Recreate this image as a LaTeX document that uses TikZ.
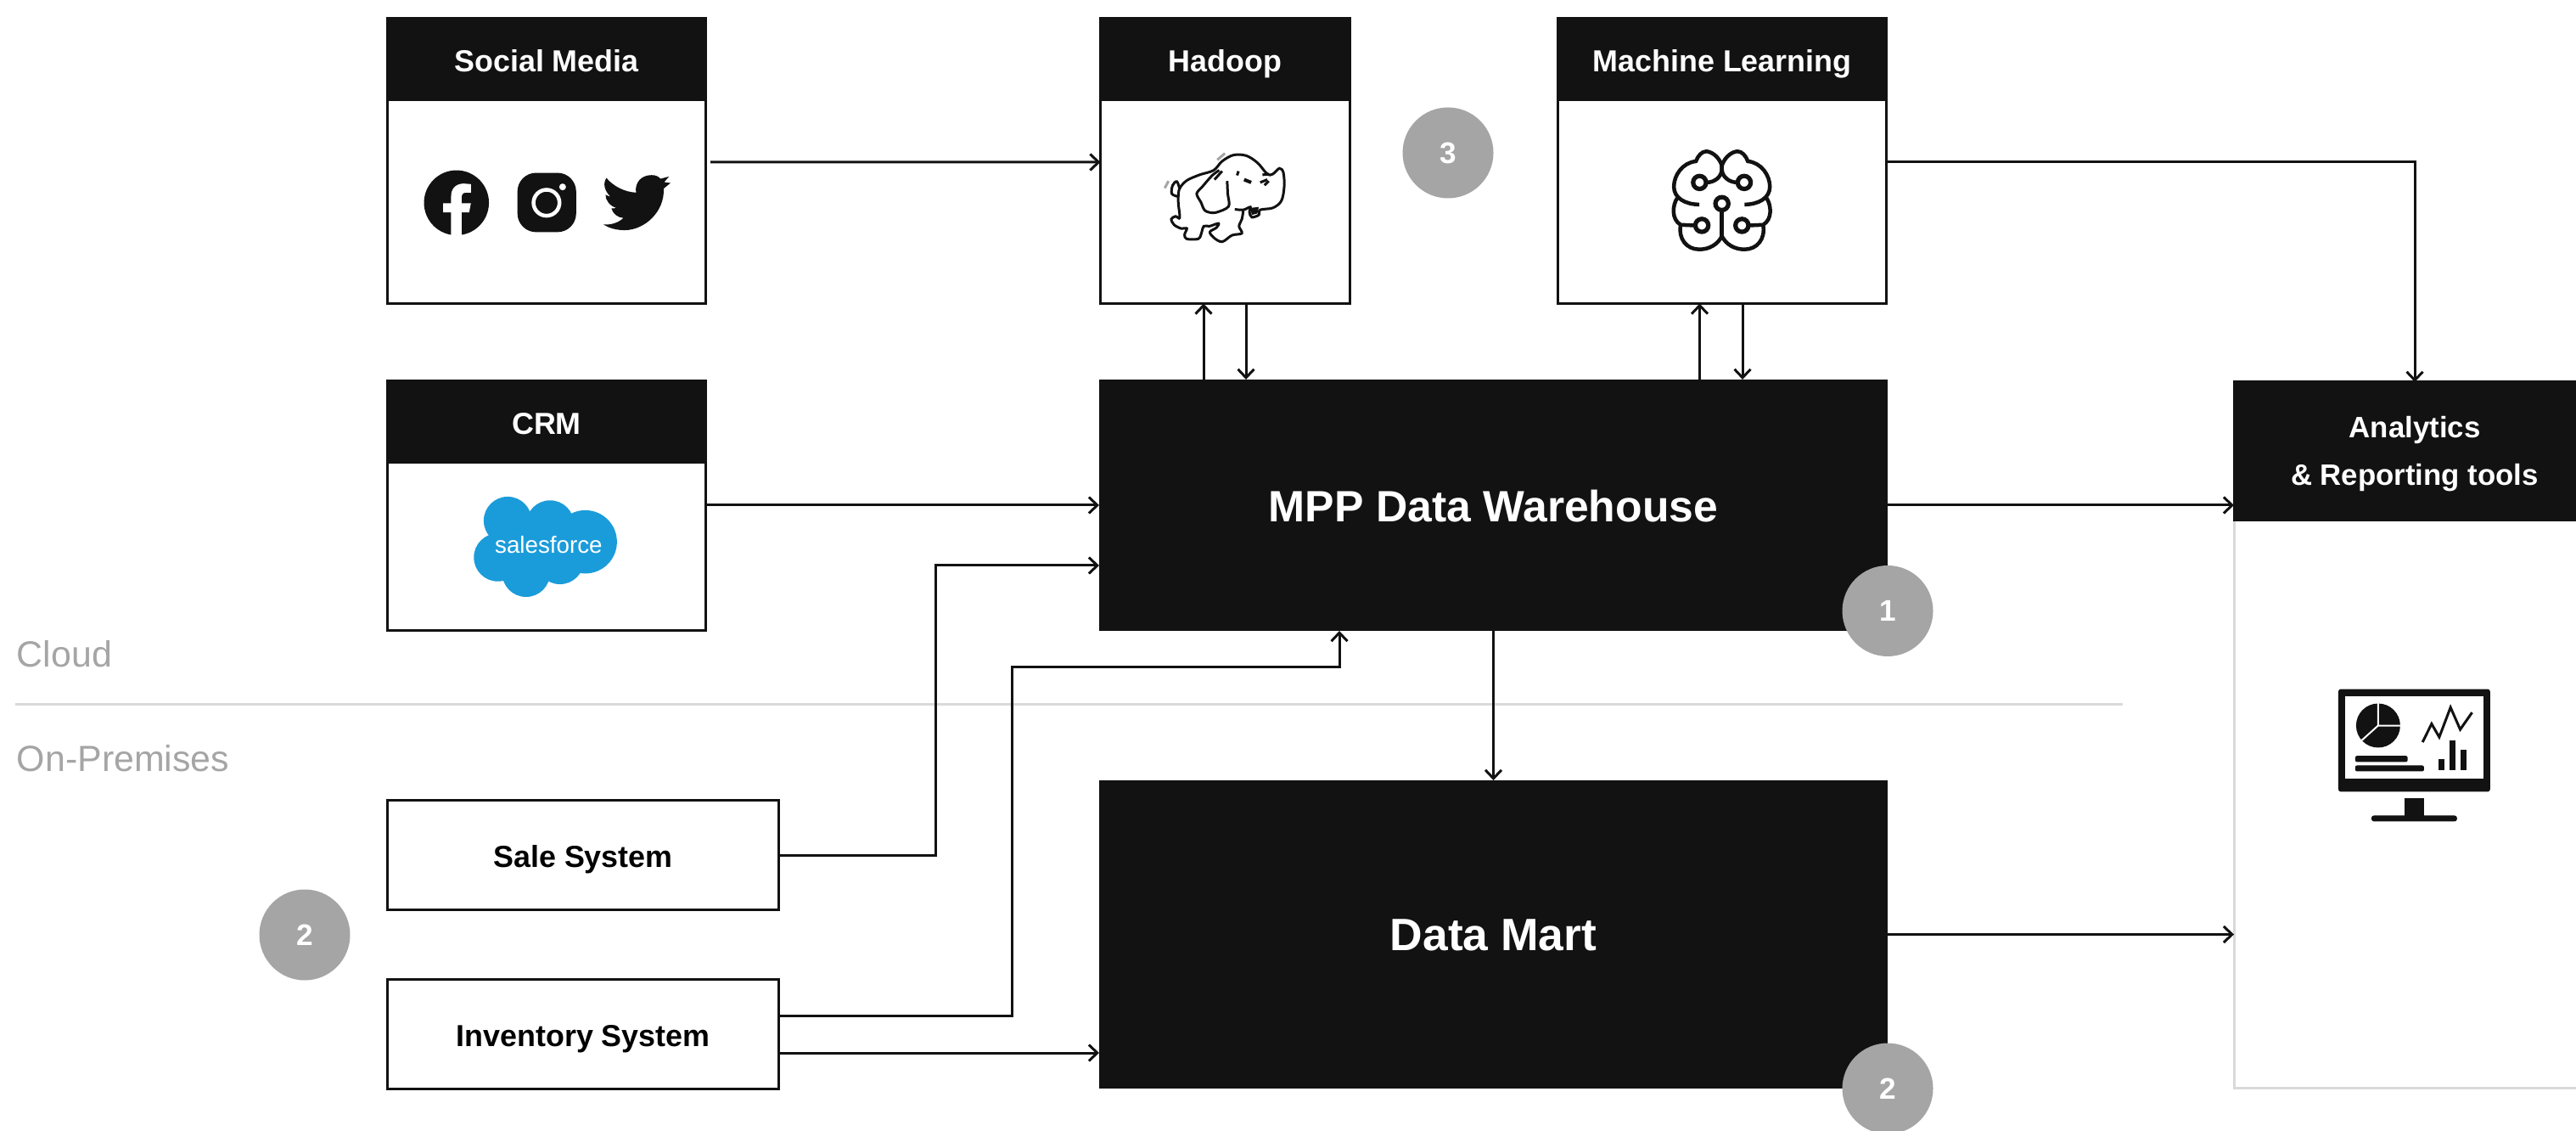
\documentclass[tikz,border=0pt]{standalone}
\usepackage{fontspec}
\setmainfont{Liberation Sans}
\usetikzlibrary{positioning, arrows.meta}
\definecolor{inkblack}{HTML}{121212}
\definecolor{badgegray}{HTML}{A5A5A5}
\definecolor{rulegray}{HTML}{D9D9D9}
\definecolor{cloudblue}{HTML}{1B9CDA}

\begin{document}
\begin{tikzpicture}[
    outer sep=0pt,
    capline/.style={text height=8.3pt, text depth=0pt},
    titlehead/.style={rectangle, draw=inkblack, fill=inkblack, line width=0.03cm, text=white, inner sep=0pt, minimum height=0.96cm, align=center, font=\fontsize{10.2}{15.9}\selectfont\bfseries},
    titlebody/.style={rectangle, draw=inkblack, fill=white, line width=0.03cm, inner sep=0pt},
    blackbox/.style={rectangle, fill=inkblack, text=white, inner sep=0pt, minimum width=9.29cm, text height=10.9pt, text depth=0pt, font=\fontsize{15.2}{18}\selectfont\bfseries},
    sourcebox/.style={rectangle, draw=inkblack, line width=0.03cm, inner sep=0pt, minimum width=4.61cm, minimum height=1.29cm, capline, font=\fontsize{10.2}{12}\selectfont\bfseries},
    badge/.style={circle, fill=badgegray, text=white, inner sep=0pt, minimum size=1.07cm, font=\fontsize{10}{12}\selectfont\bfseries},
    flow/.style={draw=inkblack, line width=0.03cm, -{Straight Barb[length=0.1cm, width=0.19cm]}},
    divider/.style={draw=rulegray, line width=0.03cm},
    zonelabel/.style={text=badgegray, inner sep=0pt, anchor=base west, font=\fontsize{12.2}{14}\selectfont}
]
\useasboundingbox (0,0) rectangle (30.35,-13.32);

% Cloud and on-premises zones
\coordinate (ruleleft) at (0.18,-8.30);
\coordinate (ruleright) at (25.01,-8.30);
\draw[divider] (ruleleft) -- (ruleright);
\node[zonelabel] (cloud) at (0.20,-7.86) {Cloud};
\node[zonelabel] (premises) at (0.20,-9.09) {On-Premises};

% Top row
\node[titlehead, capline, minimum width=3.75cm] (socialhead) at (6.44,-0.695) {Social Media};
\node[titlebody, minimum width=3.75cm, minimum height=2.40cm, below=0cm of socialhead] (socialbody) {};
\node[titlehead, capline, minimum width=2.94cm, right=4.65cm of socialhead] (hadoophead) {Hadoop};
\node[titlebody, minimum width=2.94cm, minimum height=2.40cm, below=0cm of hadoophead] (hadoopbody) {};
\node[titlehead, capline, minimum width=3.87cm, right=2.45cm of hadoophead] (learnhead) {Machine Learning};
\node[titlebody, minimum width=3.87cm, minimum height=2.40cm, below=0cm of learnhead] (learnbody) {};

% Sources
\node[titlehead, capline, minimum width=3.75cm, below=0.91cm of socialbody] (crmhead) {CRM};
\node[titlebody, minimum width=3.75cm, minimum height=1.98cm, below=0cm of crmhead] (crmbody) {};
\node[sourcebox, below=2.0cm of crmbody.south west, anchor=north west] (sale) {Sale System};
\node[sourcebox, below=0.82cm of sale] (inventory) {Inventory System};

% Warehouse and mart
\node[blackbox, minimum height=2.96cm, below=0.895cm of hadoopbody.south west, anchor=north west, xshift=-0.015cm, font=\fontsize{14.7}{18}\selectfont\bfseries] (mpp) {MPP Data Warehouse};
\node[blackbox, minimum height=3.63cm, below=1.76cm of mpp] (mart) {Data Mart};

% Analytics runs past the right edge of the page
\node[titlebody, draw=rulegray, minimum width=4.26cm, minimum height=6.68cm, right=4.08cm of mpp.north east, anchor=north west, yshift=-1.66cm] (analyticsbody) {};
\node[titlehead, minimum width=4.26cm, minimum height=1.63cm, above=0cm of analyticsbody, font=\fontsize{9.9}{15.9}\selectfont\bfseries] (analyticshead) {\rule{0pt}{8.7pt}Analytics\\\& Reporting tools};

% Connectors
\coordinate (hadoopup) at ([xshift=-0.255cm]hadoopbody.south);
\coordinate (hadoopdown) at ([xshift=0.245cm]hadoopbody.south);
\coordinate (learnup) at ([xshift=-0.265cm]learnbody.south);
\coordinate (learndown) at ([xshift=0.24cm]learnbody.south);
\coordinate (mppin) at ([xshift=-1.815cm]mpp.south);

\draw[flow] ([shift={(0.055,0.465)}]socialbody.east) -- ([yshift=0.465cm]hadoopbody.west);
\draw[flow] ([yshift=0.465cm]learnbody.east) -| (analyticshead.north);
\draw[flow] (hadoopup |- mpp.north) -- (hadoopup);
\draw[flow] (hadoopdown) -- (hadoopdown |- mpp.north);
\draw[flow] (learnup |- mpp.north) -- (learnup);
\draw[flow] (learndown) -- (learndown |- mpp.north);
\draw[flow] (crmbody.east |- mpp.west) -- (mpp.west);
\draw[flow] (mpp.east) -- (mpp.east -| analyticshead.west);
\draw[flow] (mpp.south) -- (mart.north);
\draw[flow] (mart.east) -- (mart.east -| analyticsbody.west);
\draw[flow] (sale.east) -- ++(1.845,0) |- ([yshift=-0.71cm]mpp.west);
\draw[flow] ([yshift=0.22cm]inventory.east) -- ++(2.745,0) |- ([yshift=-0.43cm]mppin) -- (mppin);
\draw[flow] ([yshift=-0.22cm]inventory.east) -- ([yshift=-0.22cm]inventory.east -| mart.west);

% Numbered badges
\node[badge] (badgelake) at (17.06,-1.80) {3};
\node[badge] (badgempp) at ([yshift=0.235cm]mpp.south east) {1};
\node[badge] (badgemart) at (mart.south east) {2};
\node[badge] (badgesource) at (3.59,-11.01) {2};

% Facebook, Instagram, Twitter
\begin{scope}[shift={(4.40,0)}, x=0.003333cm, y=-0.003333cm]
  \fill[inkblack] (294,718) circle[radius=115];
  \fill[white] (275,835) -- (275,752) -- (247,752) -- (247,720) -- (275,720) -- (275,695) .. controls (275,665) and (295,650) .. (320,650) -- (345,652) -- (345,682) -- (328,682) .. controls (316,682) and (312,690) .. (312,700) -- (312,720) -- (345,720) -- (339,752) -- (312,752) -- (312,835) -- cycle;
  \fill[inkblack, rounded corners=0.22cm] (510,612) rectangle (718,822);
  \draw[white, line width=0.045cm] (613,718) circle[radius=46];
  \fill[white] (670,662) circle[radius=12];
  \fill[inkblack] (1052,648) -- (1028,668) .. controls (1032,750) and (960,815) .. (890,815)
    .. controls (860,815) and (835,808) .. (815,795) .. controls (845,797) and (870,787) .. (885,772)
    .. controls (865,770) and (848,757) .. (843,738) -- (862,737)
    .. controls (838,730) and (822,710) .. (822,690) -- (840,697)
    .. controls (818,675) and (812,650) .. (825,630) .. controls (850,660) and (890,680) .. (930,682)
    .. controls (925,645) and (950,620) .. (985,620) .. controls (1000,620) and (1010,625) .. (1017,633)
    -- (1047,625) -- (1030,645) -- cycle;
\end{scope}

% Hadoop elephant
\begin{scope}[shift={(13.65,-1.70)}, x=0.003333cm, y=-0.003333cm, line width=0.03cm, inkblack]
  \draw plot[smooth, tension=0.55] coordinates {(70,180) (75,155) (100,128) (145,108) (195,92) (225,60) (265,38) (310,40) (350,65) (385,105) (405,105) (428,85) (442,100) (445,150) (435,200) (405,225) (360,232) (355,250) (330,258) (322,240) (325,222) (300,232) (270,230)};
  \draw plot[smooth, tension=0.55] coordinates {(300,235) (295,265) (285,290) (295,315) (260,322) (225,345) (195,330) (182,310) (205,295) (212,280) (180,290) (160,290) (150,320) (140,335) (100,335) (92,320) (100,298) (80,298) (55,285) (45,265) (60,255) (75,260) (70,210) (70,180)};
  \draw plot[smooth, tension=0.6] coordinates {(75,160) (65,132) (50,145) (47,175) (70,185)};
  \draw plot[smooth, tension=0.5] coordinates {(215,92) (190,110) (155,150) (135,175) (150,205) (165,235) (200,242) (248,220) (245,175) (243,130)};
  \fill (325,225) -- (355,222) -- (350,245) -- (330,250) -- cycle;
  \draw[line width=0.04cm] (303,125) -- (328,135);
  \draw (283,95) -- (278,110);
  \draw (368,108) -- (392,105);
  \draw (360,135) -- (385,125);
  \draw (375,145) -- (390,130);
  \draw (225,95) -- (198,125);
  \draw[badgegray] (35,130) -- (22,155);
  \draw[badgegray] (235,32) -- (208,55);
\end{scope}

% Machine learning brain
\foreach \side in {1,-1} {
  \begin{scope}[shift={(20.2867,-1.70)}, x=0.003333cm, y=-0.003333cm, xscale=\side, line width=0.045cm, inkblack]
    \draw (0,75) .. controls (-12,40) and (-40,25) .. (-56,25) .. controls (-70,25) and (-85,40) .. (-92,60) .. controls (-140,65) and (-170,110) .. (-170,150) .. controls (-170,190) and (-130,213) .. (-80,213);
    \draw (-158,190) .. controls (-175,215) and (-180,265) .. (-146,285) -- (-100,287);
    \draw (-146,285) .. controls (-155,335) and (-125,372) .. (-80,372) .. controls (-45,372) and (-15,355) .. (0,325);
    \draw (0,60) -- (0,90) .. controls (-2,115) and (-25,135) .. (-55,135);
    \draw[line width=0.052cm] (-79,135) circle[radius=23];
    \draw[line width=0.052cm] (-71,287) circle[radius=23];
  \end{scope}
}
\begin{scope}[shift={(20.2867,-1.70)}, x=0.003333cm, y=-0.003333cm, line width=0.045cm, inkblack]
  \draw[line width=0.052cm] (0,210) circle[radius=23];
  \draw (0,235) -- (0,325);
\end{scope}

% Salesforce cloud
\begin{scope}[shift={(5.20,-5.60)}, x=0.003333cm, y=-0.003333cm]
  \foreach \cx/\cy/\cr in {235/160/85, 385/173/85, 510/235/112, 200/290/85, 300/345/85, 420/300/85, 340/250/120}
    \fill[cloudblue] (\cx,\cy) circle[radius=\cr];
  \node[text=white, inner sep=0pt, font=\fontsize{7.9}{9}\selectfont] (salesforce) at (380,245) {salesforce};
\end{scope}

% Reporting monitor
\begin{scope}[xshift=0.015cm, x=0.01cm, y=-0.01cm, inkblack]
  \fill[rounded corners=0.03cm] (2755,812) rectangle (2934,933);
  \fill[white] (2763,820) rectangle (2926.5,917.5);
  \fill (2802,855) circle[radius=26];
  \draw[white, line width=0.02cm] (2802,827) -- (2802,855) -- (2830,855) (2802,855) -- (2782,873);
  \draw[line width=0.03cm] (2854.3,874.6) -- (2865,853) -- (2874,868.6) -- (2887.3,833.6) -- (2898.7,859.6) -- (2912.7,839.6);
  \fill[rounded corners=0.02cm] (2775,890.7) rectangle (2836.7,897.9);
  \fill[rounded corners=0.02cm] (2775,902) rectangle (2856,909);
  \fill (2872.7,895) rectangle (2880,907.5);
  \fill (2885.7,873) rectangle (2893.3,907.5);
  \fill (2899,883.6) rectangle (2906,907.5);
  \fill (2832.7,940.7) rectangle (2856,962);
  \fill[rounded corners=0.03cm] (2794,961) rectangle (2895,968);
\end{scope}

\end{tikzpicture}
\end{document}
